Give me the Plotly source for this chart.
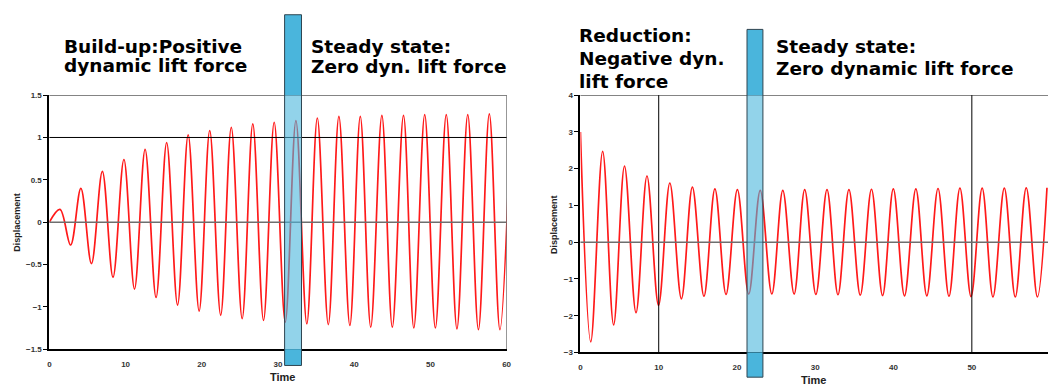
import plotly.graph_objects as go

# ---------------- data ----------------
# Left panel: build-up (extrema of the oscillation)
left_t = [0, 1.39, 2.78, 4.13, 5.52, 6.95, 8.35, 9.78, 11.17, 12.56, 14.0, 15.39,
          16.82, 18.21, 19.65, 21.04, 22.48, 23.87, 25.3, 26.69, 28.1, 29.5, 30.95,
          32.35, 33.78, 35.16, 36.6, 37.99, 39.43, 40.8, 42.17, 43.63, 45.0, 46.47,
          47.82, 49.25, 50.65, 52.08, 53.48, 54.9, 56.3, 57.73, 59.12, 60.55]
left_y = [0, 0.15, -0.27, 0.40, -0.49, 0.60, -0.65, 0.74, -0.79, 0.86, -0.89, 0.94,
          -0.98, 1.03, -1.05, 1.08, -1.10, 1.12, -1.14, 1.16, -1.16, 1.18, -1.18,
          1.20, -1.20, 1.23, -1.21, 1.25, -1.22, 1.25, -1.24, 1.26, -1.24, 1.26,
          -1.25, 1.27, -1.25, 1.27, -1.26, 1.27, -1.27, 1.28, -1.27, 1.28]

# Right panel: reduction (extrema of the oscillation)
right_t = [0, 1.32, 2.84, 4.24, 5.63, 7.1, 8.5, 9.98, 11.42, 12.9, 14.3, 15.78,
           17.18, 18.6, 20.05, 21.5, 22.97, 24.45, 25.85, 27.3, 28.65, 30.08, 31.5,
           32.9, 34.3, 35.75, 37.18, 38.6, 39.97, 41.4, 42.85, 44.25, 45.68, 47.08,
           48.48, 49.9, 51.32, 52.7, 54.15, 55.55, 56.95, 58.38, 59.6]
right_y = [3.0, -2.71, 2.47, -2.25, 2.07, -1.92, 1.80, -1.72, 1.61, -1.54, 1.50,
           -1.47, 1.45, -1.42, 1.43, -1.41, 1.41, -1.41, 1.41, -1.41, 1.43, -1.42,
           1.43, -1.43, 1.43, -1.44, 1.44, -1.45, 1.45, -1.46, 1.45, -1.46, 1.46,
           -1.47, 1.47, -1.48, 1.47, -1.49, 1.47, -1.49, 1.48, -1.49, 1.48]

left_title_lines = ["Build-up:Positive", "dynamic lift force"]
left_steady_lines = ["Steady state:", "Zero dyn. lift force"]
right_title_lines = ["Reduction:", "Negative dyn.", "lift force"]
right_steady_lines = ["Steady state:", "Zero dynamic lift force"]

W, H = 1053, 390


def px(x):
    return x / W


def py(y):
    return 1 - y / H


fig = go.Figure()
fig.add_trace(go.Scatter(x=left_t, y=left_y, mode="lines",
                         line=dict(color="#FF1A1A", width=1.7, shape="spline", smoothing=1),
                         xaxis="x", yaxis="y", showlegend=False, hoverinfo="skip"))
fig.add_trace(go.Scatter(x=right_t, y=right_y, mode="lines",
                         line=dict(color="#FF1A1A", width=1.7, shape="spline", smoothing=1),
                         xaxis="x2", yaxis="y2", showlegend=False, hoverinfo="skip"))

tickfont = dict(family="Liberation Sans", size=8, color="#333333", weight="bold")
common_x = dict(showgrid=False, zeroline=False, showline=True, linecolor="black",
                linewidth=2, ticks="", tickfont=tickfont, dtick=10, tick0=0,
                ticklabelstandoff=6)
common_y = dict(showgrid=False, zeroline=False, showline=True, linecolor="black",
                linewidth=2, ticks="outside", ticklen=4, tickcolor="black",
                tickwidth=1, tickfont=tickfont)

fig.update_layout(
    width=W, height=H, margin=dict(l=0, r=0, t=0, b=0),
    paper_bgcolor="white", plot_bgcolor="white",
    xaxis=dict(domain=[px(47.7), px(508)], range=[0, 60], anchor="y", **common_x),
    yaxis=dict(domain=[py(353.3), py(93.3)], range=[-1.5, 1.5], dtick=0.5,
               anchor="x", **common_y),
    xaxis2=dict(domain=[px(582.3), 1.0], range=[0, 59.73], anchor="y2", **common_x),
    yaxis2=dict(domain=[py(356.7), py(93.3)], range=[-3, 4], dtick=1,
                anchor="x2", **common_y),
)

shapes = []
# Left panel frame / grid
shapes += [
    dict(type="line", xref="x domain", yref="y", x0=0, x1=1, y0=1.5, y1=1.5,
         line=dict(color="black", width=1)),
    dict(type="line", xref="x", yref="y domain", x0=60, x1=60, y0=0, y1=1,
         line=dict(color="#444444", width=1)),
    dict(type="line", xref="x domain", yref="y", x0=0, x1=1, y0=1, y1=1,
         line=dict(color="black", width=1)),
    dict(type="line", xref="x domain", yref="y", x0=0, x1=1, y0=0, y1=0,
         line=dict(color="#6E6E6E", width=1.5)),
]
# Right panel frame / grid
shapes += [
    dict(type="line", xref="x2 domain", yref="y2", x0=0, x1=1, y0=4, y1=4,
         line=dict(color="black", width=1)),
    dict(type="line", xref="x2", yref="y2 domain", x0=10, x1=10, y0=0, y1=1,
         line=dict(color="black", width=1)),
    dict(type="line", xref="x2", yref="y2 domain", x0=50, x1=50, y0=0, y1=1,
         line=dict(color="black", width=1)),
    dict(type="line", xref="x2 domain", yref="y2", x0=0, x1=1, y0=0, y1=0,
         line=dict(color="#6E6E6E", width=1.5)),
]

BLUE = "#4AB5DC"


def bar(x0, x1, ytop, ybot, ptop, pbot):
    out = []
    for a, b in [(ytop, ptop), (pbot, ybot)]:
        out.append(dict(type="rect", xref="paper", yref="paper", layer="above",
                        x0=px(x0), x1=px(x1), y0=py(b), y1=py(a),
                        fillcolor=BLUE, line=dict(width=0)))
    out.append(dict(type="rect", xref="paper", yref="paper", layer="above",
                    x0=px(x0), x1=px(x1), y0=py(pbot), y1=py(ptop),
                    fillcolor=BLUE, opacity=0.6, line=dict(width=0)))
    out.append(dict(type="rect", xref="paper", yref="paper", layer="above",
                    x0=px(x0), x1=px(x1), y0=py(ybot), y1=py(ytop),
                    fillcolor="rgba(0,0,0,0)", line=dict(color="#2E4450", width=1)))
    return out


shapes += bar(284.5, 301.5, 11, 370, 93.3, 353.3)
shapes += bar(750, 766, 26, 382, 93.3, 356.7)
fig.update_layout(shapes=shapes)

annotations = []
tfont = dict(family="DejaVu Sans", size=18.5, color="black", weight="bold")


def text_lines(lines, x, ys):
    res = []
    for line, y in zip(lines, ys):
        res.append(dict(text=line, xref="paper", yref="paper", x=px(x), y=py(y),
                        xanchor="left", yanchor="middle", showarrow=False,
                        font=tfont))
    return res


annotations += text_lines(left_title_lines, 60, [43.8, 62.9])
annotations += text_lines(left_steady_lines, 309, [43, 64.2])
annotations += text_lines(right_title_lines, 579, [32, 55.8, 79.2])
annotations += text_lines(right_steady_lines, 777, [43.8, 65.7])

lab = dict(family="Liberation Sans", size=9, color="#222222", weight="bold")
annotations += [
    dict(text="Displacement", xref="paper", yref="paper", x=px(15), y=py(223),
         textangle=-90, showarrow=False, font=lab, xanchor="center", yanchor="middle"),
    dict(text="Displacement", xref="paper", yref="paper", x=px(555), y=py(226),
         textangle=-90, showarrow=False, font=lab, xanchor="center", yanchor="middle"),
    dict(text="Time", xref="paper", yref="paper", x=px(282), y=py(382),
         showarrow=False, font=dict(lab, size=11), xanchor="center", yanchor="middle"),
    dict(text="Time", xref="paper", yref="paper", x=px(817), y=py(385),
         showarrow=False, font=dict(lab, size=11), xanchor="center", yanchor="middle"),
]
fig.update_layout(annotations=annotations)

fig.write_html("out.html")
